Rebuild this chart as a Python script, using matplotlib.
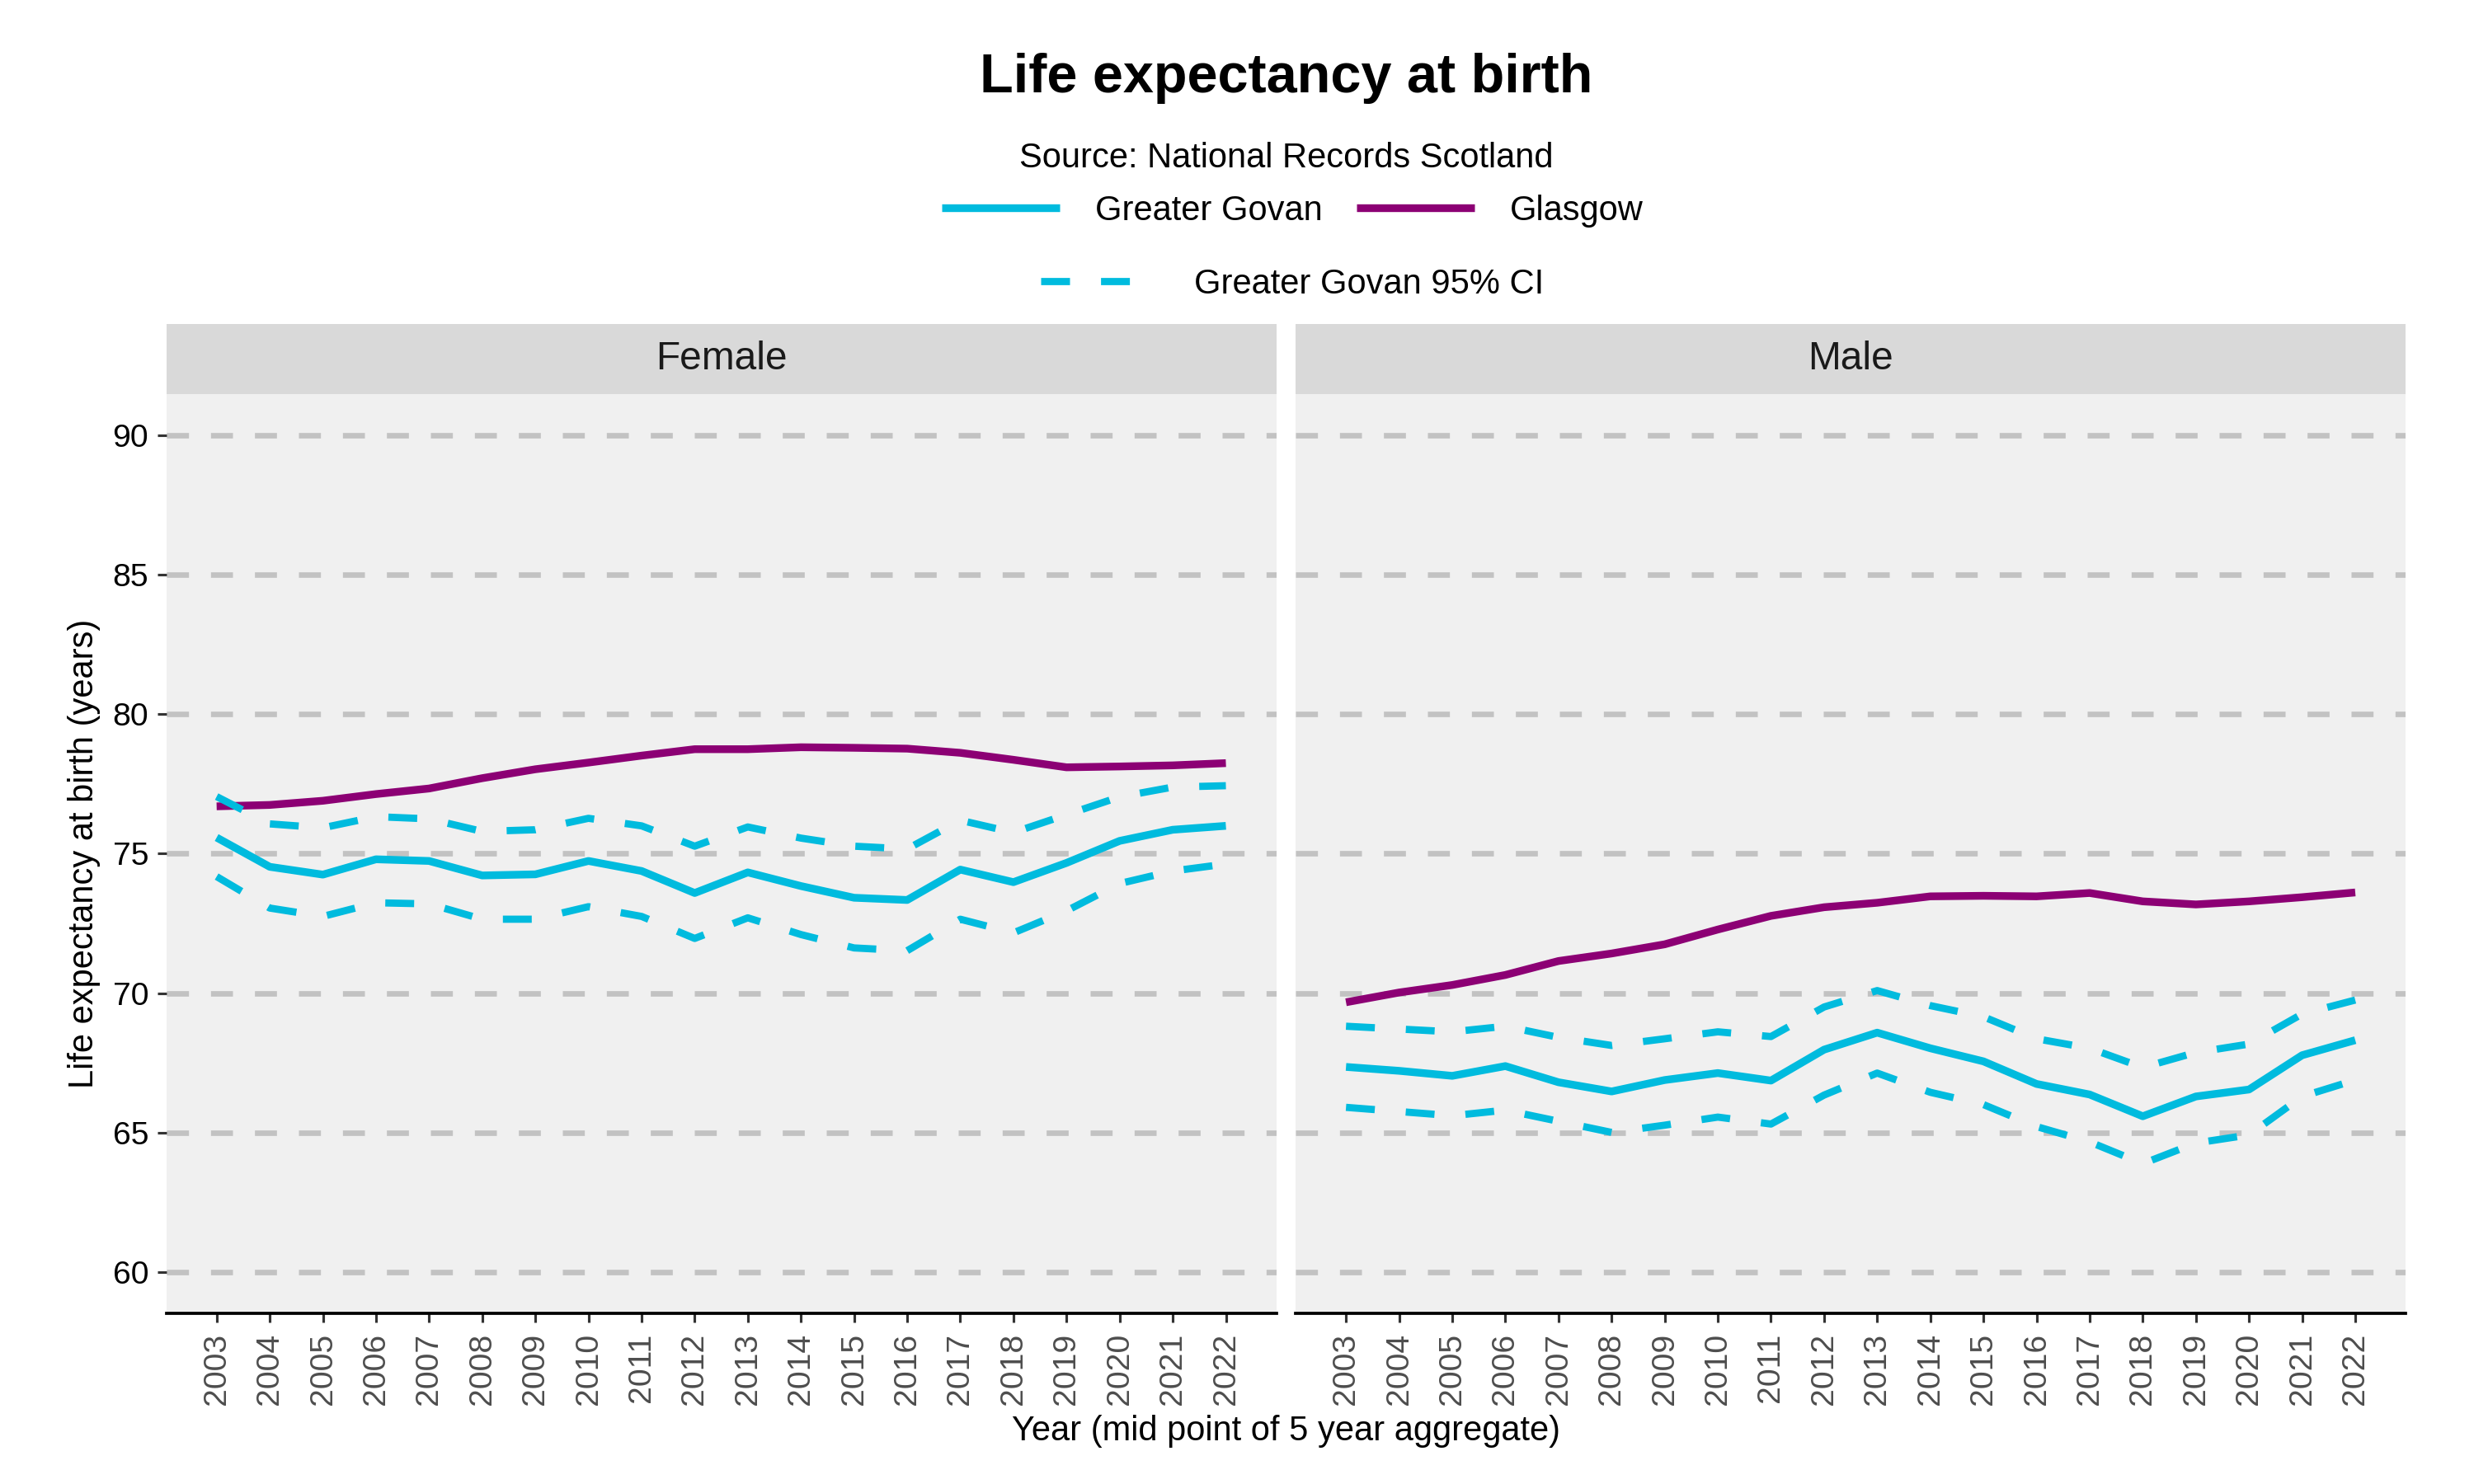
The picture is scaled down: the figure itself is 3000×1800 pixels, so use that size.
import matplotlib
matplotlib.use("Agg")
import matplotlib.pyplot as plt
from matplotlib.lines import Line2D

plt.rcParams['font.family'] = ['Liberation Sans', 'DejaVu Sans']

years = list(range(2003, 2023))
year_labels = [str(y) for y in years]

female_glasgow = [76.70, 76.75, 76.90, 77.14, 77.34, 77.71, 78.03, 78.27, 78.52, 78.75,
                  78.75, 78.82, 78.80, 78.77, 78.62, 78.37, 78.10, 78.13, 78.17, 78.25]
female_govan = [75.58, 74.53, 74.25, 74.80, 74.74, 74.22, 74.26, 74.74, 74.38, 73.59,
                74.33, 73.84, 73.42, 73.34, 74.43, 73.98, 74.67, 75.46, 75.86, 76.00]
female_upper = [77.05, 76.07, 75.93, 76.33, 76.25, 75.80, 75.86, 76.27, 76.00, 75.27,
                75.96, 75.56, 75.27, 75.17, 76.20, 75.76, 76.40, 77.04, 77.39, 77.44]
female_lower = [74.18, 73.05, 72.75, 73.24, 73.20, 72.65, 72.65, 73.10, 72.75, 71.96,
                72.70, 72.10, 71.62, 71.52, 72.65, 72.16, 72.95, 73.93, 74.38, 74.63]

male_glasgow = [69.67, 70.02, 70.29, 70.65, 71.15, 71.42, 71.75, 72.28, 72.77, 73.08,
                73.24, 73.47, 73.49, 73.47, 73.59, 73.29, 73.18, 73.29, 73.44, 73.61]
male_govan = [67.35, 67.21, 67.03, 67.38, 66.80, 66.47, 66.88, 67.13, 66.86, 67.97,
              68.58, 68.02, 67.55, 66.74, 66.36, 65.58, 66.29, 66.54, 67.77, 68.31]
male_upper = [68.81, 68.71, 68.61, 68.81, 68.41, 68.12, 68.36, 68.61, 68.44, 69.50,
              70.09, 69.55, 69.15, 68.36, 68.02, 67.33, 67.87, 68.17, 69.25, 69.75]
male_lower = [65.90, 65.75, 65.60, 65.80, 65.40, 65.00, 65.26, 65.55, 65.30, 66.34,
              67.13, 66.44, 66.00, 65.21, 64.66, 63.88, 64.62, 64.91, 66.29, 66.88]

panels = ["Female", "Male"]
y_ticks = [60, 65, 70, 75, 80, 85, 90]

GOVAN = "#00BBDE"
GLASGOW = "#8C0074"
PANEL_BG = "#F0F0F0"
STRIP_BG = "#D9D9D9"
GRID = "#C2C2C2"

SOLID_LW = 2.25
DASH_LW = 2.1
DASH_PAT = (4.0, 4.3)

fig = plt.figure(figsize=(10, 6), dpi=300)

W, H = 3000.0, 1800.0
ax_bottom = 1 - 1593.3 / H
ax_top = 1 - 477.7 / H
ax_h = ax_top - ax_bottom
lefts = [201.5 / W, 1571.0 / W]
ax_w = (1547.7 - 201.5) / W
strip_h = (477.7 - 393.0) / H

data = {
    "Female": (female_govan, female_glasgow, female_upper, female_lower),
    "Male": (male_govan, male_glasgow, male_upper, male_lower),
}

for i, name in enumerate(panels):
    ax = fig.add_axes([lefts[i], ax_bottom, ax_w, ax_h])
    ax.set_facecolor(PANEL_BG)
    gov, gla, up, lo = data[name]
    ax.plot(years, gov, color=GOVAN, lw=SOLID_LW, solid_joinstyle='round', solid_capstyle='butt', zorder=3)
    ax.plot(years, gla, color=GLASGOW, lw=SOLID_LW, solid_joinstyle='round', solid_capstyle='butt', zorder=3)
    for ci in (up, lo):
        l, = ax.plot(years, ci, color=GOVAN, lw=DASH_LW, zorder=4,
                     dash_capstyle='butt', dash_joinstyle='round')
        l.set_dashes(DASH_PAT)
    ax.set_xlim(2002.05, 2022.95)
    ax.set_ylim(58.5, 91.5)
    ax.set_yticks(y_ticks)
    ax.set_xticks(years)
    ax.set_xticklabels(year_labels, rotation=90, fontsize=9.4, color="#4D4D4D")
    for yv in y_ticks:
        gl = ax.axhline(yv, color=GRID, lw=1.6, zorder=1)
        gl.set_dashes((4, 4))
        gl.set_dash_capstyle('butt')
    for s in ("top", "right", "left"):
        ax.spines[s].set_visible(False)
    ax.spines["bottom"].set_color("black")
    ax.spines["bottom"].set_linewidth(0.9)
    ax.spines["bottom"].set_zorder(5)
    ax.tick_params(axis='x', length=2.6, width=0.75, color="#333333", pad=3)
    if i == 0:
        ax.tick_params(axis='y', length=2.6, width=0.75, color="#333333", pad=2.5,
                       labelsize=9.4, labelcolor="black")
    else:
        ax.tick_params(axis='y', left=False, labelleft=False)

    sax = fig.add_axes([lefts[i], ax_top, ax_w, strip_h])
    sax.set_facecolor(STRIP_BG)
    sax.set_xticks([])
    sax.set_yticks([])
    for s in sax.spines.values():
        s.set_visible(False)
    sax.text(0.5, 0.5, name, ha='center', va='center', fontsize=11.5, color="#1A1A1A",
             transform=sax.transAxes)

center_x = (201.5 + 2917.0) / 2 / W

fig.text(center_x, 1 - 112 / H, "Life expectancy at birth", ha='center', va='baseline',
         fontsize=16, fontweight='bold', color='black')
fig.text(center_x, 1 - 203 / H, "Source: National Records Scotland", ha='center', va='baseline',
         fontsize=10, color='black')

h1 = [Line2D([0], [0], color=GOVAN, lw=SOLID_LW, solid_capstyle='butt'),
      Line2D([0], [0], color=GLASGOW, lw=SOLID_LW, solid_capstyle='butt')]
leg1 = fig.legend(h1, ["Greater Govan", "Glasgow"], loc='center', ncol=2,
                  bbox_to_anchor=(1567.5 / W, 1 - 256 / H), frameon=False, fontsize=10,
                  handlelength=3.43, handletextpad=1.03, columnspacing=1.0, borderpad=0,
                  borderaxespad=0)
dl = Line2D([0], [0], color=GOVAN, lw=DASH_LW, dash_capstyle='butt')
dl.set_dashes(DASH_PAT)
leg2 = fig.legend([dl], ["Greater Govan 95% CI"], loc='center', ncol=1,
                  bbox_to_anchor=(1567 / W, 1 - 345 / H), frameon=False, fontsize=10,
                  handlelength=3.43, handletextpad=1.03, borderpad=0, borderaxespad=0)

fig.text(center_x, 1 - 1747 / H, "Year (mid point of 5 year aggregate)", ha='center',
         va='baseline', fontsize=10, color='black')
fig.text(102.5 / W, (ax_bottom + ax_top) / 2, "Life expectancy at birth (years)", ha='center',
         va='center', rotation=90, fontsize=10, color='black')

fig.savefig("out.png", dpi=300, facecolor='white')
